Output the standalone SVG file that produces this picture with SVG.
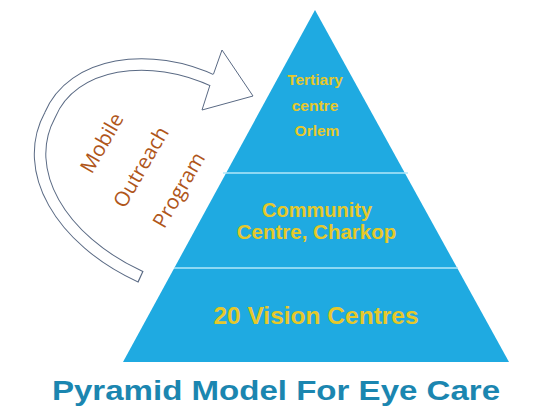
<svg xmlns="http://www.w3.org/2000/svg" width="538" height="418" viewBox="0 0 538 418">
<style>
.tier{fill:#1faae1}
.sep{stroke:#b3e7f8;stroke-width:1.5}
.lbl{font-family:"Liberation Sans",Arial,sans-serif;font-weight:bold;fill:#e6c82a;text-anchor:middle}
.mop{font-family:"Open Sans","Liberation Sans",sans-serif;font-size:20.5px;fill:#b0561a;text-anchor:middle}
.title{font-family:"Liberation Sans",Arial,sans-serif;font-weight:bold;font-size:28.5px;fill:#1b86b0;text-anchor:middle}
</style>
<rect width="538" height="418" fill="#ffffff"/>
<g id="connectors">
  <path d="M141,277 C60,240 20,170 50,115 C72,62 150,50 216,82" fill="none" stroke="#5a6a84" stroke-width="12.5"/>
  <path d="M141,277 C60,240 20,170 50,115 C72,62 150,50 216,82" fill="none" stroke="#ffffff" stroke-width="10.5" stroke-dasharray="0 1.2 10000 0"/>
  <path d="M213.5,74 L222,50 L253,96 L202,110 L210,85" fill="#ffffff" stroke="#5a6a84" stroke-width="1"/>
</g>
<g id="pyramid">
  <polygon class="tier" points="315,10 509,362 123,362"/>
  <line class="sep" x1="223" y1="173" x2="408" y2="173"/>
  <line class="sep" x1="174" y1="268" x2="458" y2="268"/>
</g>
<g id="tier-top">
  <text class="lbl" font-size="15.5" x="315" y="85">Tertiary</text>
  <text class="lbl" font-size="15.5" x="315" y="111">centre</text>
  <text class="lbl" font-size="15.5" x="317" y="136">Orlem</text>
</g>
<g id="tier-middle">
  <text class="lbl" font-size="20" x="317" y="217">Community</text>
  <text class="lbl" font-size="20.5" x="316.5" y="239">Centre, Charkop</text>
</g>
<g id="tier-base">
  <text class="lbl" font-size="24.5" x="316" y="324">20 Vision Centres</text>
</g>
<g id="mobile-outreach">
  <text class="mop" transform="translate(102,143) rotate(-60)" x="0" y="7">Mobile</text>
  <text class="mop" transform="translate(141,167) rotate(-60)" x="0" y="7">Outreach</text>
  <text class="mop" transform="translate(179,190) rotate(-60)" x="0" y="7">Program</text>
</g>
<g id="title">
  <text class="title" transform="translate(276,400) scale(1.16,1)" x="0" y="0">Pyramid Model For Eye Care</text>
</g>
</svg>
